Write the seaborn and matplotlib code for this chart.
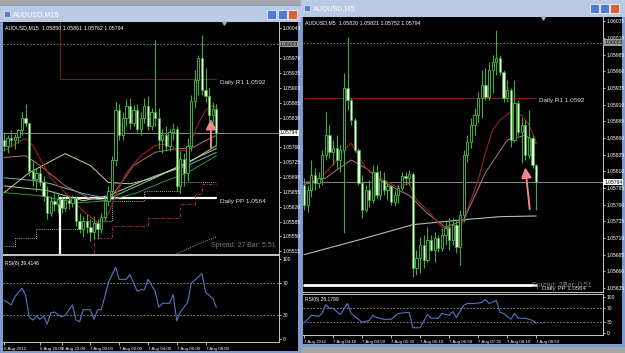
import numpy as np
import matplotlib
matplotlib.use("Agg")
import matplotlib.pyplot as plt
import seaborn as sns
from matplotlib.patches import Rectangle

sns.set_theme(style="dark")
plt.rcParams['font.family'] = ['Liberation Sans Narrow', 'Liberation Sans', 'DejaVu Sans']

# ---------------- data: left chart AUDUSD,M15 ----------------
L_open = [1.05776,1.05764,1.05781,1.05776,1.05785,1.05800,1.05828,1.05818,1.05705,1.05686,
          1.05700,1.05677,1.05646,1.05606,1.05634,1.05627,1.05639,1.05617,1.05636,1.05629,
          1.05641,1.05587,1.05568,1.05587,1.05572,1.05561,1.05582,1.05568,1.05596,1.05634,
          1.05658,1.05729,1.05847,1.05788,1.05828,1.05856,1.05818,1.05847,1.05804,1.05828,
          1.05856,1.05811,1.05842,1.05828,1.05776,1.05788,1.05764,1.05795,1.05804,1.05669,
          1.05733,1.05700,1.05764,1.05870,1.05918,1.05970,1.05894,1.05880,1.05835,1.05850]
L_high = [1.05795,1.05788,1.05800,1.05792,1.05804,1.05842,1.05861,1.05818,1.05729,1.05710,
          1.05717,1.05693,1.05669,1.05646,1.05658,1.05653,1.05646,1.05643,1.05646,1.05648,
          1.05646,1.05606,1.05598,1.05603,1.05591,1.05598,1.05591,1.05606,1.05643,1.05669,
          1.05740,1.05866,1.05861,1.05842,1.05873,1.05875,1.05859,1.05861,1.05842,1.05875,
          1.05880,1.05852,1.06012,1.05852,1.05804,1.05811,1.05804,1.05816,1.05811,1.05752,
          1.05747,1.05781,1.05882,1.05941,1.05977,1.06024,1.05946,1.05899,1.05866,1.05861]
L_low = [1.05752,1.05747,1.05764,1.05757,1.05771,1.05790,1.05811,1.05693,1.05669,1.05658,
         1.05669,1.05634,1.05591,1.05598,1.05610,1.05606,1.05606,1.05610,1.05615,1.05620,
         1.05575,1.05558,1.05549,1.05558,1.05539,1.05544,1.05544,1.05558,1.05587,1.05622,
         1.05646,1.05717,1.05776,1.05776,1.05811,1.05804,1.05811,1.05795,1.05788,1.05818,
         1.05800,1.05800,1.05811,1.05757,1.05747,1.05752,1.05752,1.05776,1.05658,1.05653,
         1.05669,1.05681,1.05752,1.05852,1.05882,1.05882,1.05866,1.05823,1.05818,1.05762]
L_close = [1.05764,1.05781,1.05776,1.05785,1.05800,1.05828,1.05818,1.05705,1.05686,1.05700,
           1.05677,1.05646,1.05606,1.05634,1.05627,1.05639,1.05617,1.05636,1.05629,1.05641,
           1.05587,1.05568,1.05587,1.05572,1.05561,1.05582,1.05568,1.05596,1.05634,1.05658,
           1.05729,1.05847,1.05788,1.05828,1.05856,1.05818,1.05847,1.05804,1.05828,1.05856,
           1.05811,1.05842,1.05828,1.05776,1.05788,1.05764,1.05795,1.05804,1.05669,1.05733,
           1.05700,1.05764,1.05870,1.05918,1.05970,1.05894,1.05880,1.05835,1.05850,1.05794]

L_ma_red_x = [0,6,8,13,17,22,26,29,31,34,38,42,46,48,51,54,56,58,59]
L_ma_red = [1.05752,1.05781,1.05764,1.05688,1.05653,1.05610,1.05582,1.05603,1.05646,1.05700,
            1.05740,1.05764,1.05769,1.05752,1.05752,1.05816,1.05847,1.05859,1.05852]
L_ma_rosy_x = [0,6,10,17,24,29,32,36,42,48,52,56,59]
L_ma_rosy = [1.05736,1.05740,1.05717,1.05669,1.05639,1.05634,1.05669,1.05717,1.05748,1.05757,
             1.05757,1.05776,1.05788]
L_ma_tan_x = [0,7,17,24,29,35,41,46,52,59]
L_ma_tan = [1.05653,1.05700,1.05745,1.05717,1.05677,1.05674,1.05686,1.05705,1.05729,1.05757]
L_ma_cyan_x = [0,9,13,22,29,37,45,51,59]
L_ma_cyan = [1.05688,1.05681,1.05674,1.05651,1.05639,1.05669,1.05700,1.05717,1.05748]
L_ma_green_x = [0,10,20,29,37,45,51,59]
L_ma_green = [1.05653,1.05646,1.05629,1.05634,1.05653,1.05681,1.05700,1.05740]
L_ma_lime_x = [0,12,22,29,40,50,59]
L_ma_lime = [1.05669,1.05658,1.05634,1.05646,1.05686,1.05717,1.05764]
L_dot_white_x = [0,3,9,21,30,39,49,59]
L_dot_white = [1.05528,1.05546,1.05568,1.05587,1.05634,1.05658,1.05677,1.05677]
L_dot_red_x = [14,25,30,40,49,53,55,59]
L_dot_red = [1.05509,1.05546,1.05575,1.05594,1.05627,1.05651,1.05674,1.05674]
L_diag_x = [48,54,59]
L_diag = [1.05509,1.05532,1.05549]

L_rsi_x = [0,2,3,5,6,7,8,9,10,11,12,13,14,16,17,19,20,21,22,24,25,26,27,28,29,31,32,34,35,37,
           38,39,40,42,43,44,46,47,48,49,51,52,54,55,56,57,58,59]
L_rsi = [49,43,53,64,55,28,24,29,25,29,19,33,34,28,30,43,24,22,37,37,25,37,37,53,71,90,75,75,81,60,
         62,62,75,60,40,45,45,56,23,34,46,70,78,82,59,55,51,40]
L_time_x = [0,10,16,24,32,40,48,56]
L_time_lbl = ["6 Aug 2012","6 Aug 20:00","6 Aug 22:00","7 Aug 00:00","7 Aug 02:00",
              "7 Aug 04:00","7 Aug 06:00","7 Aug 08:00"]
L_price_ticks = [1.05515,1.05550,1.05585,1.05620,1.05655,1.05690,1.05725,1.05760,
                 1.05830,1.05865,1.05900,1.05935,1.05970,1.06040]
L_day_x = [0, 15.5, 59]
L_R1 = [1.0625, 1.0592, 1.0592]
L_PP = [1.0545, 1.0564, 1.0564]
L_arrow = [(57.5, 1.05752), (57.5, 1.05833)]

# ---------------- data: right chart AUDUSD,M5 ----------------
R_close = [1.05760,1.05782,1.05804,1.05792,1.05800,1.05834,1.05864,1.05839,1.05845,1.05827,
           1.05842,1.05935,1.05917,1.05887,1.05842,1.05792,1.05752,1.05782,1.05767,1.05809,
           1.05774,1.05797,1.05782,1.05788,1.05764,1.05774,1.05785,1.05803,1.05800,1.05806,
           1.05665,1.05680,1.05700,1.05677,1.05707,1.05692,1.05710,1.05695,1.05715,1.05725,
           1.05707,1.05730,1.05696,1.05744,1.05834,1.05854,1.05880,1.05894,1.05920,1.05940,
           1.05922,1.05962,1.05974,1.05980,1.05959,1.05920,1.05932,1.05857,1.05912,1.05869,
           1.05880,1.05834,1.05860,1.05820,1.05794]
R_open = [1.05790,1.05760,1.05782,1.05804,1.05792,1.05800,1.05834,1.05864,1.05839,1.05845,
          1.05827,1.05842,1.05935,1.05917,1.05887,1.05842,1.05792,1.05752,1.05782,1.05767,
          1.05809,1.05774,1.05797,1.05782,1.05788,1.05764,1.05774,1.05785,1.05803,1.05800,
          1.05806,1.05665,1.05680,1.05700,1.05677,1.05707,1.05692,1.05710,1.05695,1.05715,
          1.05725,1.05707,1.05730,1.05696,1.05744,1.05834,1.05854,1.05880,1.05894,1.05920,
          1.05940,1.05922,1.05962,1.05974,1.05980,1.05959,1.05920,1.05932,1.05857,1.05912,
          1.05869,1.05880,1.05834,1.05860,1.05820]
R_high = [1.05800,1.05790,1.05827,1.05815,1.05809,1.05842,1.05899,1.05880,1.05857,1.05864,
          1.05850,1.05957,1.06012,1.05920,1.05890,1.05845,1.05805,1.05790,1.05797,1.05820,
          1.05820,1.05812,1.05809,1.05794,1.05790,1.05782,1.05790,1.05809,1.05809,1.05812,
          1.05809,1.05692,1.05712,1.05715,1.05727,1.05715,1.05719,1.05715,1.05725,1.05734,
          1.05740,1.05740,1.05737,1.05752,1.05842,1.05864,1.05890,1.05905,1.05929,1.05962,
          1.05965,1.05974,1.05984,1.06022,1.05984,1.05962,1.05947,1.05935,1.05947,1.05917,
          1.05890,1.05887,1.05902,1.05864,1.05821]
R_low = [1.05752,1.05749,1.05772,1.05782,1.05785,1.05790,1.05827,1.05830,1.05820,1.05815,
         1.05809,1.05718,1.05902,1.05880,1.05839,1.05790,1.05740,1.05749,1.05757,1.05762,
         1.05770,1.05767,1.05774,1.05767,1.05760,1.05758,1.05762,1.05782,1.05790,1.05790,
         1.05652,1.05654,1.05658,1.05665,1.05674,1.05690,1.05674,1.05689,1.05690,1.05700,
         1.05692,1.05700,1.05688,1.05670,1.05734,1.05824,1.05845,1.05864,1.05884,1.05890,
         1.05917,1.05917,1.05928,1.05955,1.05955,1.05914,1.05914,1.05847,1.05854,1.05864,
         1.05822,1.05827,1.05830,1.05815,1.05752]
R_ma_red_x = [0,4,8,11,13,15,17,22,26,29,31,34,38,43,45,48,50,52,54,57,60,62,64]
R_ma_red = [1.05794,1.05797,1.05820,1.05842,1.05852,1.05834,1.05815,1.05797,1.05786,1.05792,
            1.05767,1.05752,1.05726,1.05725,1.05752,1.05797,1.05838,1.05872,1.05887,1.05899,
            1.05894,1.05880,1.05854]
R_ma_rosy_x = [0,6,9,13,17,21,26,29,34,39,44,50,56,61,64]
R_ma_rosy = [1.05790,1.05800,1.05812,1.05827,1.05815,1.05797,1.05782,1.05774,1.05747,1.05726,
             1.05737,1.05808,1.05857,1.05864,1.05852]
R_ma_long_x = [0,15,30,43,54,64]
R_ma_long = [1.05685,1.05707,1.05730,1.05737,1.05742,1.05743]
R_rsi_x = [0,2,4,5,6,7,8,10,12,13,16,18,19,20,22,24,26,29,30,32,34,35,37,38,40,41,42,44,45,47,
           49,50,51,53,54,55,57,58,59,61,63,64]
R_rsi = [28,49,46,54,78,68,68,51,81,54,30,35,49,43,38,38,54,57,15,15,51,41,41,54,49,59,43,76,81,81,
         84,92,81,89,57,54,38,54,41,41,35,27]
R_time_x = [0,8,16,24,32,40,48,56,64]
R_time_lbl = ["7 Aug 2012","7 Aug 04:10","7 Aug 04:50","7 Aug 05:30","7 Aug 06:10",
              "7 Aug 06:50","7 Aug 07:30","7 Aug 08:10","7 Aug 08:50"]
R_price_ticks = [1.05635,1.05660,1.05685,1.05710,1.05735,1.05760,1.05785,1.05810,1.05835,
                 1.05860,1.05885,1.05910,1.05935,1.05960,1.05985,1.06010,1.06035]
R_R1 = 1.0592
R_PP = 1.0564
R_arrow = [(62.3, 1.05749), (60.9, 1.05820)]

LAST_PRICE = 1.05794
HIGH_LINE = 1.06003
RSI_LEVELS = [30, 70]

# ---------------- drawing ----------------
W, H = 625, 353
fig = plt.figure(figsize=(W/100, H/100), dpi=100)
fig.patch.set_facecolor('#a6a6a6')

def frect(x0, y0, x1, y1):
    return [x0/W, 1 - y1/H, (x1-x0)/W, (y1-y0)/H]

def box(x0, y0, x1, y1, color, z=-10, ec='none', lw=0):
    fig.patches.append(Rectangle((x0/W, 1-y1/H), (x1-x0)/W, (y1-y0)/H,
                                 transform=fig.transFigure, facecolor=color,
                                 edgecolor=ec, lw=lw, zorder=z))

# window chrome
box(0, 5, 301, 353, '#7f9ccf')
box(3, 22, 298, 351, 'black')
box(0, 6, 301, 22, '#b9c9e6')
box(301, 0, 625, 347, '#7f9ccf')
box(303, 17, 622, 344, 'black')
box(301, 0, 625, 17, '#b9c9e6')
for (bx, col) in [(267, '#4f7ad8'), (278, '#4f7ad8'), (288, '#d9603b')]:
    box(bx, 10, bx + 9, 19, col, z=-9, ec='white', lw=0.5)
for (bx, col) in [(590, '#4f7ad8'), (600, '#4f7ad8'), (610, '#d9603b')]:
    box(bx, 4, bx + 9, 13, col, z=-9, ec='white', lw=0.5)
box(4, 11, 10, 17, '#5a7fc0', z=-9, ec='white', lw=0.4)
box(304, 5, 310, 11, '#5a7fc0', z=-9, ec='white', lw=0.4)
fig.text(13/W, 1-14.5/H, "AUDUSD,M15", color='white', fontsize=5.2, va='center',
         family=['Liberation Sans', 'DejaVu Sans'])
fig.text(313/W, 1-8.5/H, "AUDUSD,M5", color='white', fontsize=5.2, va='center',
         family=['Liberation Sans', 'DejaVu Sans'])

GREEN = '#3fae3a'
BEAR = '#e6fbd8'
AXC = '#c8c8c8'
FS = 3.6
FSX = 3.2

def style_ax(ax, xlim, ylim):
    ax.set_facecolor('black')
    ax.patch.set_alpha(0.0)
    ax.grid(False)
    ax.set_xlim(*xlim)
    ax.set_ylim(*ylim)
    for s in ['left', 'top']:
        ax.spines[s].set_visible(False)
    for s in ['right', 'bottom']:
        ax.spines[s].set_color(AXC)
        ax.spines[s].set_linewidth(0.7)
    ax.yaxis.tick_right()
    ax.tick_params(axis='y', colors='white', labelsize=FS, length=1.6, width=0.5, pad=0.8,
                   right=True, left=False)
    ax.set_xlabel('')
    ax.set_ylabel('')

def candles(ax, o, h, l, c, width=0.62):
    o, h, l, c = map(np.asarray, (o, h, l, c))
    idx = np.arange(len(o))
    ax.vlines(idx, l, h, color=GREEN, lw=0.8, zorder=3)
    up = c >= o
    bot = np.minimum(o, c)
    hgt = np.maximum(np.abs(c - o), 0.000012)
    ax.bar(idx[up], hgt[up], width, bottom=bot[up], color='black', edgecolor=GREEN, lw=0.7, zorder=4)
    ax.bar(idx[~up], hgt[~up], width, bottom=bot[~up], color=BEAR, edgecolor=GREEN, lw=0.5, zorder=4)

def line(ax, x, y, color, lw=0.8, **kw):
    sns.lineplot(x=x, y=y, ax=ax, color=color, lw=lw, legend=False, **kw)

def price_labels(ax, ticks):
    ax.set_yticks(ticks)
    ax.set_yticklabels([f"{t:.5f}" for t in ticks])
    tr = ax.get_yaxis_transform()
    ax.text(1.004, LAST_PRICE, f"{LAST_PRICE:.5f}", transform=tr, fontsize=FS, color='black',
            va='center', ha='left', bbox=dict(boxstyle='square,pad=0.15', fc='white', ec='none'),
            clip_on=False, zorder=10)
    ax.text(1.004, HIGH_LINE, f"{HIGH_LINE:.5f}", transform=tr, fontsize=FS, color='black',
            va='center', ha='left', bbox=dict(boxstyle='square,pad=0.15', fc='#9a9a9a', ec='none'),
            clip_on=False, zorder=10)
    ax.axhline(LAST_PRICE, color='#8a8a8a', lw=0.7, zorder=2)
    ax.axhline(HIGH_LINE, color='#8a8a8a', lw=0.6, ls=(0, (2, 2)), zorder=2)

def rsi_panel(ax, x, v, tx, tl, xlim, ylim, label):
    style_ax(ax, xlim, ylim)
    ax.spines['top'].set_visible(True)
    ax.spines['top'].set_color(AXC)
    ax.spines['top'].set_linewidth(0.7)
    for lv in RSI_LEVELS:
        ax.axhline(lv, color='#9a9a9a', lw=0.6, ls=(0, (2, 2)))
    line(ax, x, v, '#5676c4', lw=0.8)
    ax.set_yticks([0, 30, 70, 100])
    ax.set_yticklabels(['0', '30', '70', '100'])
    ax.set_xticks(tx)
    ax.set_xticklabels(tl, ha='left')
    ax.tick_params(axis='x', colors='white', labelsize=FSX, length=2.5, width=0.5, pad=0.8,
                   direction='out', bottom=True)
    ax.text(0.008, 0.93, label, transform=ax.transAxes, fontsize=FS, color='white', va='top')

# ---- left price panel
axL = fig.add_axes(frect(3, 22, 279, 254))
style_ax(axL, (-0.28, 76.4), (1.055086, 1.060550))
axL.set_xticks([])
price_labels(axL, L_price_ticks)
line(axL, L_day_x, L_R1, '#7a1c1c', lw=0.8, drawstyle='steps-post')
line(axL, L_day_x, L_PP, 'white', lw=1.6, drawstyle='steps-post')
line(axL, L_dot_white_x, L_dot_white, '#dcdcdc', lw=0.6, drawstyle='steps-post', linestyle=(0, (1, 1.5)))
line(axL, L_dot_red_x, L_dot_red, '#b03030', lw=0.7, drawstyle='steps-post', linestyle=(0, (3, 1.5, 1, 1.5)))
line(axL, L_diag_x, L_diag, '#dcdcdc', lw=0.6, linestyle=(0, (1, 1.5)))
line(axL, L_ma_lime_x, L_ma_lime, '#a8d88a', lw=0.7)
line(axL, L_ma_green_x, L_ma_green, '#2f9a34', lw=0.7)
line(axL, L_ma_cyan_x, L_ma_cyan, '#62bccb', lw=0.7)
line(axL, L_ma_tan_x, L_ma_tan, '#d8c98e', lw=0.7)
line(axL, L_ma_rosy_x, L_ma_rosy, '#b86a6a', lw=0.7)
line(axL, L_ma_red_x, L_ma_red, '#9a1f1f', lw=0.8)
candles(axL, L_open, L_high, L_low, L_close)
axL.annotate('', xy=L_arrow[1], xytext=L_arrow[0],
             arrowprops=dict(arrowstyle='-|>,head_width=0.25,head_length=0.5', color='#f08a8a', lw=1.4),
             zorder=8)
axL.annotate("Daily R1 1.0592", xy=(59.6, L_R1[-1]), xytext=(1, -2.6), textcoords='offset points',
             fontsize=4.6, color='#e0e0e0', va='center', ha='left')
axL.annotate("Daily PP 1.0564", xy=(59.6, L_PP[-1]), xytext=(1, -2.4), textcoords='offset points',
             fontsize=4.6, color='#e0e0e0', va='center', ha='left')
axL.text(0.752, 0.022, "Spread: 27", transform=axL.transAxes, fontsize=5.0, color='#7c7c7c', va='bottom')
axL.text(0.885, 0.022, "Bar: 5:51", transform=axL.transAxes, fontsize=5.0, color='#7c7c7c', va='bottom')
axL.text(0.008, 0.985, "AUDUSD,M15  1.05850 1.05861 1.05762 1.05794", transform=axL.transAxes,
         fontsize=3.8, color='white', va='top')
axL.plot([0.80], [0.995], marker='v', color='#b0b0b0', ms=2.5, transform=axL.transAxes, clip_on=False)

# ---- left RSI
axLr = fig.add_axes(frect(3, 255, 279, 342))
rsi_panel(axLr, L_rsi_x, L_rsi, L_time_x, L_time_lbl, (-0.28, 76.4), (-3.4, 105.4), "RSI(8) 39.4146")

# ---- right price panel
axR = fig.add_axes(frect(303, 17, 603, 292))
style_ax(axR, (-0.28, 82.4), (1.05629, 1.060415))
axR.set_xticks([])
price_labels(axR, R_price_ticks)
nR = len(R_close)
line(axR, [0, nR - 1], [R_R1, R_R1], '#7a1c1c', lw=0.8)
line(axR, [0, nR - 1], [R_PP, R_PP], 'white', lw=2.0)
line(axR, R_ma_long_x, R_ma_long, '#b9bca8', lw=0.8)
line(axR, R_ma_rosy_x, R_ma_rosy, '#b47878', lw=0.7)
line(axR, R_ma_red_x, R_ma_red, '#9a2323', lw=0.8)
candles(axR, R_open, R_high, R_low, R_close)
axR.annotate('', xy=R_arrow[1], xytext=R_arrow[0],
             arrowprops=dict(arrowstyle='-|>,head_width=0.25,head_length=0.5', color='#f08a8a', lw=1.4),
             zorder=8)
axR.annotate("Daily R1 1.0592", xy=(nR - 0.6, R_R1), xytext=(1, -1.6), textcoords='offset points',
             fontsize=4.6, color='#e0e0e0', va='center', ha='left')
axR.annotate("Daily PP 1.0564", xy=(nR - 0.6, R_PP), xytext=(3, -2.6), textcoords='offset points',
             fontsize=4.4, color='#e0e0e0', va='center', ha='left')
axR.text(0.765, 0.012, "Spread: 27", transform=axR.transAxes, fontsize=5.0, color='#7c7c7c', va='bottom')
axR.text(0.868, 0.012, "Bar: 0:51", transform=axR.transAxes, fontsize=5.0, color='#7c7c7c', va='bottom')
axR.text(0.008, 0.988, "AUDUSD,M5  1.05820 1.05821 1.05752 1.05794", transform=axR.transAxes,
         fontsize=3.8, color='white', va='top')
axR.plot([0.80], [0.997], marker='v', color='#b0b0b0', ms=2.5, transform=axR.transAxes, clip_on=False)

# ---- right RSI
axRr = fig.add_axes(frect(303, 294, 603, 335))
rsi_panel(axRr, R_rsi_x, R_rsi, R_time_x, R_time_lbl, (-0.28, 82.4), (-4.6, 106.8), "RSI(8) 26.1799")

fig.savefig("out.png", dpi=100, facecolor=fig.get_facecolor())
